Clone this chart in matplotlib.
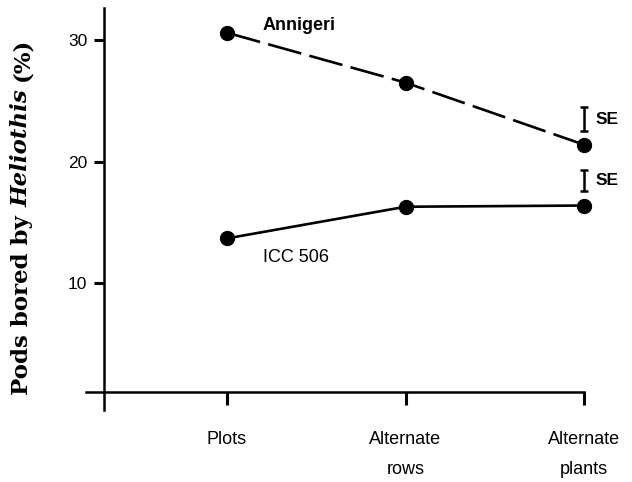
import numpy as np
import matplotlib
matplotlib.use("Agg")
import matplotlib.pyplot as plt

# planting patterns and pod damage (%)
patterns = ["Plots", "Alternate\nrows", "Alternate\nplants"]
annigeri = [30.6, 26.5, 21.4]
icc506 = [13.7, 16.3, 16.4]

# standard errors drawn beside the last point
se_centres = [23.5, 18.45]
se_half = [1.0, 0.85]

xpos = np.arange(1, len(patterns) + 1)

fig = plt.figure(figsize=(6.32, 4.82), dpi=100)
ax = fig.add_axes([0, 0, 1, 1])
ax.set_xlim(-0.272, 3.269)
ax.set_ylim(-6.32, 33.29)

# axes as crossing lines
x_axis_at = 1.07
y_axis_at = 0.31
for s in ["top", "right"]:
    ax.spines[s].set_visible(False)
ax.spines["left"].set_position(("data", y_axis_at))
ax.spines["left"].set_bounds(-0.4, 32.6)
ax.spines["bottom"].set_position(("data", x_axis_at))
ax.spines["bottom"].set_bounds(0.21, 3.0)
for s in ["left", "bottom"]:
    ax.spines[s].set_linewidth(1.8)
    ax.spines[s].set_color("black")

ax.set_yticks([10, 20, 30])
ax.set_yticklabels(["10", "20", "30"], fontsize=12.5, family="Liberation Sans")
ax.tick_params(axis="y", direction="out", length=7, width=2.2, pad=5)
ax.set_xticks(xpos)
ax.set_xticklabels(patterns, fontsize=13, family="Liberation Sans",
                   linespacing=2.0)
ax.tick_params(axis="x", direction="out", length=9, width=2.2, pad=19)

# the two cultivars
ax.plot(xpos, annigeri, color="black", lw=1.9, dashes=(13, 3.2),
        marker="o", ms=10, clip_on=False)
ax.plot(xpos, icc506, color="black", lw=1.9,
        marker="o", ms=10, clip_on=False)

ax.text(1.2, 31.2, "Annigeri", fontsize=13, fontweight="bold",
        family="Liberation Sans", va="center", ha="left")
ax.text(1.2, 12.1, "ICC 506", fontsize=13,
        family="Liberation Sans", va="center", ha="left")

# SE bars
for c, h in zip(se_centres, se_half):
    ax.errorbar(3.0, c, yerr=h, color="black", lw=1.8, capsize=3,
                capthick=1.8, clip_on=False)
    ax.text(3.065, c, "SE", fontsize=12.5, fontweight="bold",
            family="Liberation Sans", va="center", ha="left")

# y label in pieces: italic genus name
fig.canvas.draw()
renderer = fig.canvas.get_renderer()
x0 = 22 / 632
y0 = 1 - 395 / 482
pieces = [("Pods bored by", "normal", "bold"),
          ("Heliothis", "italic", "bold"),
          ("(%)", "normal", "bold")]
for txt, style, weight in pieces:
    t = fig.text(x0, y0, txt, rotation=90, ha="center", va="bottom",
                 fontsize=16.5, family="DejaVu Serif", style=style,
                 fontweight=weight)
    bb = t.get_window_extent(renderer)
    y0 = (bb.y1 + 8) / fig.bbox.height

fig.savefig("out.png", dpi=100)
